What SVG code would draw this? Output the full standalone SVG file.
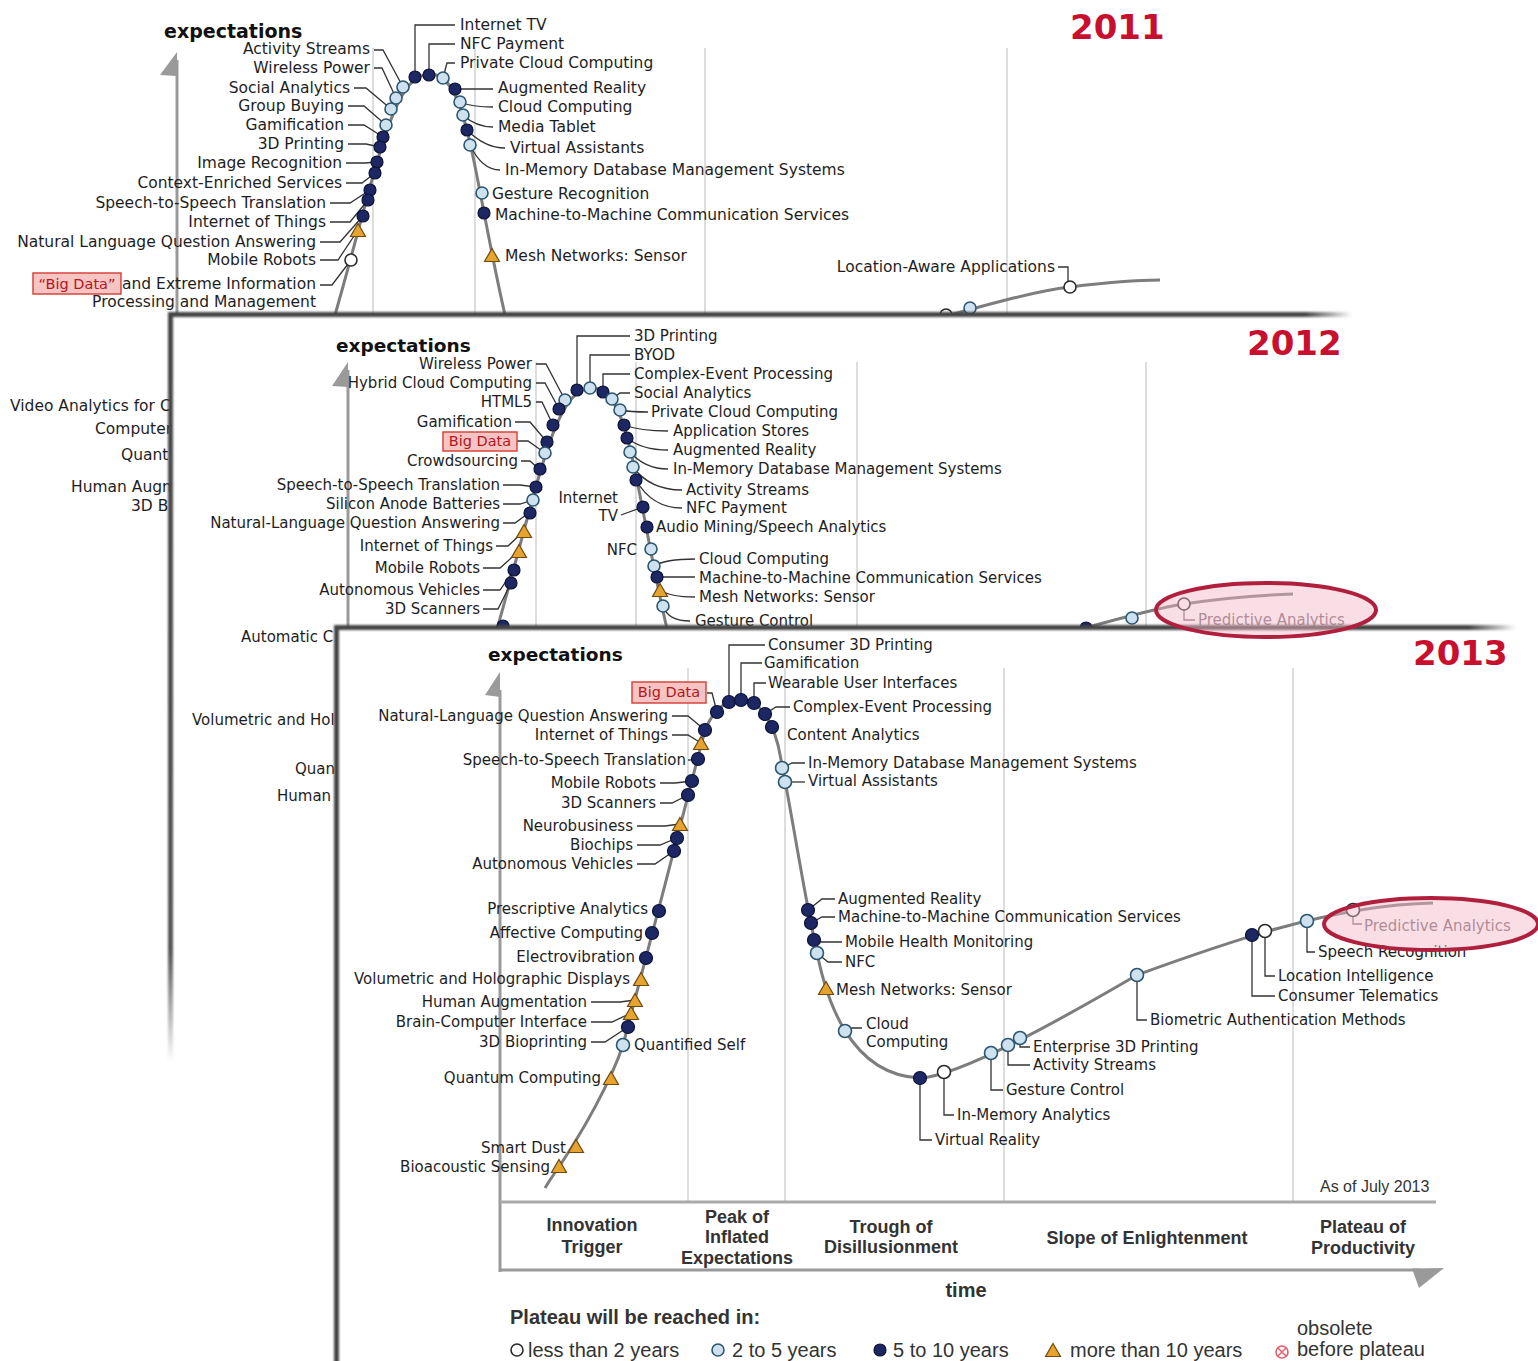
<svg xmlns="http://www.w3.org/2000/svg" width="1538" height="1361" viewBox="0 0 1538 1361">
<style>
text{font-family:"DejaVu Sans",sans-serif;fill:#1e1e1e}
.s{font-size:15.5px}
.m{font-size:15px}
.e{text-anchor:end}
.ex{font-weight:bold;font-size:19px;fill:#111}
.yr{font-weight:bold;font-size:34px;fill:#c8102e}
.ld{fill:none;stroke:#333;stroke-width:1.3}
.ldp{fill:none;stroke:#7d6873;stroke-width:1.3}
.cv{fill:none;stroke:#7d7d7d;stroke-width:3}
.dv{stroke:#d2d2d2;stroke-width:1.5}
.ax{stroke:#9a9a9a;stroke-width:3}
.axf{fill:#9a9a9a}
.d{fill:#1c2763;stroke:#0b1236;stroke-width:1.2}
.l{fill:#cde2ee;stroke:#2c5670;stroke-width:1.6}
.o{fill:#fff;stroke:#2a2a2a;stroke-width:1.6}
.t{fill:#e6a32e;stroke:#6e4a10;stroke-width:1.2}
.bd{fill:#f7c4c4;stroke:#d8453f;stroke-width:1.5}
.bdt{fill:#b3161c;font-size:14.5px;text-anchor:middle}
.ph{font-family:"Liberation Sans",sans-serif;font-weight:bold;font-size:18px;fill:#333;text-anchor:middle}
.lg{font-family:"Liberation Sans",sans-serif;font-size:20px;fill:#333}
.pa{fill:#7d6873}
.el{fill:#f2b8c6;fill-opacity:0.45;stroke:#b0203e;stroke-width:4}
</style>
<defs>
<path id="tr" d="M0,-7.5L7.5,5.5H-7.5Z"/>
<filter id="bl" filterUnits="userSpaceOnUse" x="0" y="0" width="1538" height="1361"><feGaussianBlur stdDeviation="1.3"/></filter>
<linearGradient id="gh" x1="0" x2="1" y1="0" y2="0"><stop offset="0" stop-color="#444"/><stop offset="0.96" stop-color="#444"/><stop offset="1" stop-color="#444" stop-opacity="0"/></linearGradient>
<linearGradient id="gv" x1="0" x2="0" y1="0" y2="1"><stop offset="0" stop-color="#444"/><stop offset="0.85" stop-color="#555"/><stop offset="1" stop-color="#555" stop-opacity="0"/></linearGradient>
</defs>

<g id="panel2011">
<line class="dv" x1="373" y1="48" x2="373" y2="316"/>
<line class="dv" x1="475" y1="48" x2="475" y2="316"/>
<line class="dv" x1="705" y1="48" x2="705" y2="316"/>
<line class="dv" x1="1007" y1="48" x2="1007" y2="316"/>
<line class="ax" x1="177" y1="60" x2="177" y2="316"/>
<polygon class="axf" points="177,52 177,76 160,75"/>
<text class="ex" x="164" y="38">expectations</text>
<text class="yr" x="1070" y="39">2011</text>
<path class="cv" d="M332,325 L335,315 C378,165 392,74 430,74 C468,74 472,170 505,315 L507,325"/>
<path class="cv" d="M925,322 C990,304 1035,291 1070,287 C1110,282 1140,280 1160,280"/>
<g id="leaders2011">
<path class="ld" d="M374,50 H383 L403,87"/>
<path class="ld" d="M374,68 H382 L396,98"/>
<path class="ld" d="M354,88 H366 L391,109"/>
<path class="ld" d="M348,106 H364 L386,125"/>
<path class="ld" d="M348,125 H364 L383,137"/>
<path class="ld" d="M348,144 H366 L380,147"/>
<path class="ld" d="M346,163 H365 L377,162"/>
<path class="ld" d="M346,183 H362 L375,173"/>
<path class="ld" d="M330,203 H350 L370,190"/>
<path class="ld" d="M330,222 H350 L368,200"/>
<path class="ld" d="M320,242 H340 L363,216"/>
<path class="ld" d="M320,260 H338 L358,230"/>
<path class="ld" d="M320,285 H332 L351,260"/>
<path class="ld" d="M415,77 V25 H455"/>
<path class="ld" d="M429,75 V44 H455"/>
<path class="ld" d="M443,78 L447,63 H455"/>
<path class="ld" d="M455,89 H493"/>
<path class="ld" d="M460,102 Q472,107 493,107"/>
<path class="ld" d="M463,115 Q476,127 493,127"/>
<path class="ld" d="M467,130 Q485,148 505,148"/>
<path class="ld" d="M470,145 Q482,170 500,170"/>
<path class="ld" d="M1058,267 H1068 V287"/>
</g>
<g id="dots2011">
<circle class="l" cx="403" cy="87" r="6"/><circle class="l" cx="396" cy="98" r="6"/><circle class="l" cx="391" cy="109" r="6"/><circle class="l" cx="386" cy="125" r="6"/>
<circle class="d" cx="383" cy="137" r="6"/><circle class="d" cx="380" cy="147" r="6"/><circle class="d" cx="377" cy="162" r="6"/><circle class="d" cx="375" cy="173" r="6"/><circle class="d" cx="370" cy="190" r="6"/><circle class="d" cx="368" cy="200" r="6"/><circle class="d" cx="363" cy="216" r="6"/>
<use href="#tr" class="t" x="358" y="231"/>
<circle class="o" cx="351" cy="260" r="6"/>
<circle class="d" cx="415" cy="77" r="6"/><circle class="d" cx="429" cy="75" r="6"/><circle class="l" cx="443" cy="78" r="6"/>
<circle class="d" cx="455" cy="89" r="6"/><circle class="l" cx="460" cy="102" r="6"/><circle class="l" cx="463" cy="115" r="6"/><circle class="d" cx="467" cy="130" r="6"/><circle class="l" cx="470" cy="145" r="6"/>
<circle class="l" cx="482" cy="193" r="6"/><circle class="d" cx="484" cy="213" r="6"/>
<use href="#tr" class="t" x="492" y="256"/>
<circle class="o" cx="946" cy="315" r="6"/><circle class="l" cx="970" cy="308" r="6"/><circle class="o" cx="1070" cy="287" r="6"/>
</g>
<rect class="bd" x="33" y="273" width="88" height="21"/>
<text class="bdt" x="77" y="289">“Big Data”</text>
<text class="s e" x="370" y="54">Activity Streams</text>
<text class="s e" x="370" y="73">Wireless Power</text>
<text class="s e" x="350" y="93">Social Analytics</text>
<text class="s e" x="344" y="111">Group Buying</text>
<text class="s e" x="344" y="130">Gamification</text>
<text class="s e" x="344" y="149">3D Printing</text>
<text class="s e" x="342" y="168">Image Recognition</text>
<text class="s e" x="342" y="188">Context-Enriched Services</text>
<text class="s e" x="326" y="208">Speech-to-Speech Translation</text>
<text class="s e" x="326" y="227">Internet of Things</text>
<text class="s e" x="316" y="247">Natural Language Question Answering</text>
<text class="s e" x="316" y="265">Mobile Robots</text>
<text class="s e" x="316" y="289">and Extreme Information</text>
<text class="s e" x="316" y="307">Processing and Management</text>
<text class="s" x="460" y="30">Internet TV</text>
<text class="s" x="460" y="49">NFC Payment</text>
<text class="s" x="460" y="68">Private Cloud Computing</text>
<text class="s" x="498" y="93">Augmented Reality</text>
<text class="s" x="498" y="112">Cloud Computing</text>
<text class="s" x="498" y="132">Media Tablet</text>
<text class="s" x="510" y="153">Virtual Assistants</text>
<text class="s" x="505" y="175">In-Memory Database Management Systems</text>
<text class="s" x="492" y="199">Gesture Recognition</text>
<text class="s" x="495" y="220">Machine-to-Machine Communication Services</text>
<text class="s" x="505" y="261">Mesh Networks: Sensor</text>
<text class="s e" x="1055" y="272">Location-Aware Applications</text>
<text class="s" x="10" y="411">Video Analytics for C</text>
<text class="s" x="95" y="434">Computer</text>
<text class="s" x="121" y="460">Quant</text>
<text class="s" x="71" y="492">Human Augm</text>
<text class="s" x="131" y="511">3D B</text>
</g>

<g id="panel2012">
<rect x="172" y="315" width="1180" height="1046" fill="#fff"/>
<g filter="url(#bl)">
<rect x="168" y="312" width="1184" height="5" fill="url(#gh)"/>
<rect x="168" y="312" width="5" height="750" fill="url(#gv)"/>
</g>
<line class="dv" x1="536" y1="362" x2="536" y2="630"/>
<line class="dv" x1="636" y1="362" x2="636" y2="630"/>
<line class="dv" x1="857" y1="362" x2="857" y2="630"/>
<line class="dv" x1="1146" y1="362" x2="1146" y2="630"/>
<line class="ax" x1="348" y1="370" x2="348" y2="630"/>
<polygon class="axf" points="348,362 348,387 332,386"/>
<text class="ex" x="336" y="352" style="font-size:18.5px">expectations</text>
<text class="yr" x="1247" y="355">2012</text>
<path class="cv" d="M495,640 L497,629 C540,479 554,388 592,388 C630,388 634,484 667,629 L669,640"/>
<path class="cv" d="M1060,635 C1100,624 1150,609 1184,604 C1230,597 1262,595 1293,594"/>
<g id="leaders2012">
<path class="ld" d="M536,364 H546 L565,400"/>
<path class="ld" d="M536,383 H545 L559,409"/>
<path class="ld" d="M536,402 H542 L553,425"/>
<path class="ld" d="M515,422 H530 L547,442"/>
<path class="ld" d="M517,441 H528 L545,453"/>
<path class="ld" d="M521,461 H530 L539,469"/>
<path class="ld" d="M503,485 H520 L536,487"/>
<path class="ld" d="M503,504 H520 L533,500"/>
<path class="ld" d="M503,523 H515 L530,512"/>
<path class="ld" d="M496,546 H508 L524,531"/>
<path class="ld" d="M483,568 H500 L519,551"/>
<path class="ld" d="M483,590 H500 L514,570"/>
<path class="ld" d="M483,609 H498 L511,583"/>
<path class="ld" d="M577,390 V336 H630"/>
<path class="ld" d="M590,388 V355 H630"/>
<path class="ld" d="M603,392 V374 H630"/>
<path class="ld" d="M612,399 L620,393 H630"/>
<path class="ld" d="M620,410 Q630,412 648,412"/>
<path class="ld" d="M624,425 Q640,431 668,431"/>
<path class="ld" d="M627,438 Q642,450 668,450"/>
<path class="ld" d="M630,452 Q645,469 668,469"/>
<path class="ld" d="M633,467 Q650,490 682,490"/>
<path class="ld" d="M636,480 Q652,508 682,508"/>
<path class="ld" d="M621,515 L643,507"/>
<path class="ld" d="M654,566 Q665,559 695,559"/>
<path class="ld" d="M657,577 H695"/>
<path class="ld" d="M660,590 Q670,597 695,597"/>
<path class="ld" d="M663,606 Q668,621 690,621"/>
<path class="ldp" d="M1184,604 V620 H1195"/>
</g>
<g id="dots2012">
<circle class="l" cx="565" cy="400" r="6"/><circle class="d" cx="559" cy="409" r="6"/><circle class="d" cx="553" cy="425" r="6"/><circle class="d" cx="547" cy="442" r="6"/><circle class="l" cx="545" cy="453" r="6"/><circle class="d" cx="540" cy="469" r="6"/><circle class="d" cx="536" cy="487" r="6"/><circle class="l" cx="533" cy="500" r="6"/><circle class="d" cx="530" cy="513" r="6"/>
<use href="#tr" class="t" x="524" y="532"/><use href="#tr" class="t" x="519" y="552"/>
<circle class="d" cx="514" cy="570" r="6"/><circle class="d" cx="511" cy="583" r="6"/><circle class="d" cx="503" cy="626" r="6"/>
<circle class="d" cx="577" cy="390" r="6"/><circle class="l" cx="590" cy="388" r="6"/><circle class="d" cx="603" cy="392" r="6"/><circle class="l" cx="612" cy="399" r="6"/><circle class="l" cx="620" cy="410" r="6"/><circle class="d" cx="624" cy="425" r="6"/><circle class="d" cx="627" cy="438" r="6"/><circle class="l" cx="630" cy="452" r="6"/><circle class="l" cx="633" cy="467" r="6"/><circle class="d" cx="636" cy="480" r="6"/>
<circle class="d" cx="643" cy="507" r="6"/><circle class="d" cx="647" cy="527" r="6"/><circle class="l" cx="651" cy="549" r="6"/><circle class="l" cx="654" cy="566" r="6"/><circle class="d" cx="657" cy="577" r="6"/>
<use href="#tr" class="t" x="660" y="591"/>
<circle class="l" cx="663" cy="606" r="6"/>
<circle class="d" cx="1086" cy="628" r="6"/><circle class="l" cx="1132" cy="618" r="6"/><circle class="o" cx="1184" cy="604" r="6"/>
</g>
<rect class="bd" x="443" y="432" width="74" height="19"/>
<text class="bdt" x="480" y="446">Big Data</text>
<text class="m e" x="532" y="369">Wireless Power</text>
<text class="m e" x="532" y="388">Hybrid Cloud Computing</text>
<text class="m e" x="532" y="407">HTML5</text>
<text class="m e" x="512" y="427">Gamification</text>
<text class="m e" x="518" y="466">Crowdsourcing</text>
<text class="m e" x="500" y="490">Speech-to-Speech Translation</text>
<text class="m e" x="500" y="509">Silicon Anode Batteries</text>
<text class="m e" x="500" y="528">Natural-Language Question Answering</text>
<text class="m e" x="493" y="551">Internet of Things</text>
<text class="m e" x="480" y="573">Mobile Robots</text>
<text class="m e" x="480" y="595">Autonomous Vehicles</text>
<text class="m e" x="480" y="614">3D Scanners</text>
<text class="m" x="634" y="341">3D Printing</text>
<text class="m" x="634" y="360">BYOD</text>
<text class="m" x="634" y="379">Complex-Event Processing</text>
<text class="m" x="634" y="398">Social Analytics</text>
<text class="m" x="651" y="417">Private Cloud Computing</text>
<text class="m" x="673" y="436">Application Stores</text>
<text class="m" x="673" y="455">Augmented Reality</text>
<text class="m" x="673" y="474">In-Memory Database Management Systems</text>
<text class="m" x="686" y="495">Activity Streams</text>
<text class="m" x="686" y="513">NFC Payment</text>
<text class="m" x="656" y="532">Audio Mining/Speech Analytics</text>
<text class="m e" x="618" y="503">Internet</text>
<text class="m e" x="618" y="521">TV</text>
<text class="m e" x="637" y="555">NFC</text>
<text class="m" x="699" y="564">Cloud Computing</text>
<text class="m" x="699" y="583">Machine-to-Machine Communication Services</text>
<text class="m" x="699" y="602">Mesh Networks: Sensor</text>
<text class="m" x="695" y="626">Gesture Control</text>
<text class="m pa" x="1198" y="625">Predictive Analytics</text>
<text class="m" x="241" y="642">Automatic C</text>
<text class="m" x="192" y="725">Volumetric and Hol</text>
<text class="m" x="295" y="774">Quan</text>
<text class="m" x="277" y="801">Human</text>
</g>

<g id="panel2013">
<rect x="338" y="628" width="1200" height="733" fill="#fff"/>
<g filter="url(#bl)">
<rect x="334" y="625" width="1182" height="5" fill="url(#gh)"/>
<rect x="334" y="626" width="5" height="740" fill="#444"/>
</g>
<line class="dv" x1="688" y1="668" x2="688" y2="1202"/>
<line class="dv" x1="785" y1="668" x2="785" y2="1202"/>
<line class="dv" x1="1004" y1="668" x2="1004" y2="1202"/>
<line class="dv" x1="1293" y1="668" x2="1293" y2="1202"/>
<line class="ax" x1="500" y1="690" x2="500" y2="1272"/>
<polygon class="axf" points="500,672 500,697 485,695"/>
<line x1="500" y1="1202" x2="1436" y2="1202" stroke="#aaa" stroke-width="3"/>
<line class="ax" x1="500" y1="1270" x2="1420" y2="1270"/>
<polygon class="axf" points="1412,1268.5 1444,1268 1419,1288"/>
<text class="ex" x="488" y="661" style="font-size:18.5px">expectations</text>
<text class="yr" x="1413" y="665">2013</text>
<path class="cv" d="M545,1188 L550,1180 C585,1130 612,1078 623,1045 C645,960 685,810 705,730 C715,706 728,700 741,700 C758,700 770,715 778,745 C788,790 805,900 815,942 C825,1000 850,1075 920,1078 C960,1076 1060,1020 1137,975 C1220,945 1330,905 1433,903"/>
<g id="leaders2013">
<path class="ld" d="M672,716 H688 L705,730"/>
<path class="ld" d="M672,735 H688 L701,743"/>
<path class="ld" d="M688,760 H694"/>
<path class="ld" d="M660,783 H675 L692,781"/>
<path class="ld" d="M660,803 H672 L688,795"/>
<path class="ld" d="M637,826 H665 L680,824"/>
<path class="ld" d="M637,845 H660 L677,838"/>
<path class="ld" d="M637,864 H655 L674,851"/>
<path class="ld" d="M591,1002 H620 L635,1000"/>
<path class="ld" d="M591,1022 H612 L631,1013"/>
<path class="ld" d="M591,1042 H605 L628,1027"/>
<path class="ld" d="M707,693 H712 L717,712"/>
<path class="ld" d="M729,702 V645 H765"/>
<path class="ld" d="M741,700 V663 H762"/>
<path class="ld" d="M754,703 V683 H766"/>
<path class="ld" d="M765,714 L776,707 H790"/>
<path class="ld" d="M782,768 L792,763 H805"/>
<path class="ld" d="M785,782 H805"/>
<path class="ld" d="M808,910 L822,899 H835"/>
<path class="ld" d="M811,923 L822,917 H835"/>
<path class="ld" d="M814,940 L822,942 H842"/>
<path class="ld" d="M817,953 L828,962 H842"/>
<path class="ld" d="M845,1031 L852,1028 H862"/>
<path class="ld" d="M1020,1038 V1047 H1030"/>
<path class="ld" d="M1008,1045 V1065 H1030"/>
<path class="ld" d="M991,1053 V1090 H1003"/>
<path class="ld" d="M944,1072 V1115 H954"/>
<path class="ld" d="M920,1078 V1140 H932"/>
<path class="ld" d="M1137,975 V1020 H1147"/>
<path class="ld" d="M1265,931 V976 H1275"/>
<path class="ld" d="M1252,935 V996 H1275"/>
<path class="ld" d="M1307,921 V952 H1315"/>
<path class="ldp" d="M1353,910 V924 H1362"/>
</g>
<g id="dots2013">
<use href="#tr" class="t" x="559" y="1167"/><use href="#tr" class="t" x="576" y="1147"/><use href="#tr" class="t" x="611" y="1079"/>
<circle class="l" cx="623" cy="1045" r="6.5"/><circle class="d" cx="628" cy="1027" r="6.5"/>
<use href="#tr" class="t" x="631" y="1014"/><use href="#tr" class="t" x="635" y="1001"/><use href="#tr" class="t" x="641" y="980"/>
<circle class="d" cx="646" cy="958" r="6.5"/><circle class="d" cx="652" cy="933" r="6.5"/><circle class="d" cx="659" cy="911" r="6.5"/>
<circle class="d" cx="674" cy="851" r="6.5"/><circle class="d" cx="677" cy="838" r="6.5"/>
<use href="#tr" class="t" x="680" y="825"/>
<circle class="d" cx="688" cy="795" r="6.5"/><circle class="d" cx="692" cy="781" r="6.5"/><circle class="d" cx="698" cy="759" r="6.5"/>
<use href="#tr" class="t" x="701" y="744"/>
<circle class="d" cx="705" cy="730" r="6.5"/><circle class="d" cx="717" cy="712" r="6.5"/><circle class="d" cx="729" cy="702" r="6.5"/><circle class="d" cx="741" cy="700" r="6.5"/><circle class="d" cx="754" cy="703" r="6.5"/><circle class="d" cx="765" cy="714" r="6.5"/><circle class="d" cx="772" cy="727" r="6.5"/>
<circle class="l" cx="782" cy="768" r="6.5"/><circle class="l" cx="785" cy="782" r="6.5"/>
<circle class="d" cx="808" cy="910" r="6.5"/><circle class="d" cx="811" cy="923" r="6.5"/><circle class="d" cx="814" cy="940" r="6.5"/><circle class="l" cx="817" cy="953" r="6.5"/>
<use href="#tr" class="t" x="826" y="989"/>
<circle class="l" cx="845" cy="1031" r="6.5"/>
<circle class="d" cx="920" cy="1078" r="6.5"/><circle class="o" cx="944" cy="1072" r="6.5"/>
<circle class="l" cx="991" cy="1053" r="6.5"/><circle class="l" cx="1008" cy="1045" r="6.5"/><circle class="l" cx="1020" cy="1038" r="6.5"/>
<circle class="l" cx="1137" cy="975" r="6.5"/>
<circle class="d" cx="1252" cy="935" r="6.5"/><circle class="o" cx="1265" cy="931" r="6.5"/><circle class="l" cx="1307" cy="921" r="6.5"/><circle class="o" cx="1353" cy="910" r="6.5"/>
</g>
<rect class="bd" x="632" y="682" width="74" height="21"/>
<text class="bdt" x="669" y="697">Big Data</text>
<text class="m e" x="668" y="721">Natural-Language Question Answering</text>
<text class="m e" x="668" y="740">Internet of Things</text>
<text class="m e" x="686" y="765">Speech-to-Speech Translation</text>
<text class="m e" x="656" y="788">Mobile Robots</text>
<text class="m e" x="656" y="808">3D Scanners</text>
<text class="m e" x="633" y="831">Neurobusiness</text>
<text class="m e" x="633" y="850">Biochips</text>
<text class="m e" x="633" y="869">Autonomous Vehicles</text>
<text class="m e" x="648" y="914">Prescriptive Analytics</text>
<text class="m e" x="643" y="938">Affective Computing</text>
<text class="m e" x="635" y="962">Electrovibration</text>
<text class="m e" x="630" y="984">Volumetric and Holographic Displays</text>
<text class="m e" x="587" y="1007">Human Augmentation</text>
<text class="m e" x="587" y="1027">Brain-Computer Interface</text>
<text class="m e" x="587" y="1047">3D Bioprinting</text>
<text class="m" x="634" y="1050">Quantified Self</text>
<text class="m e" x="601" y="1083">Quantum Computing</text>
<text class="m e" x="566" y="1153">Smart Dust</text>
<text class="m e" x="550" y="1172">Bioacoustic Sensing</text>
<text class="m" x="768" y="650">Consumer 3D Printing</text>
<text class="m" x="764" y="668">Gamification</text>
<text class="m" x="768" y="688">Wearable User Interfaces</text>
<text class="m" x="793" y="712">Complex-Event Processing</text>
<text class="m" x="787" y="740">Content Analytics</text>
<text class="m" x="808" y="768">In-Memory Database Management Systems</text>
<text class="m" x="808" y="786">Virtual Assistants</text>
<text class="m" x="838" y="904">Augmented Reality</text>
<text class="m" x="838" y="922">Machine-to-Machine Communication Services</text>
<text class="m" x="845" y="947">Mobile Health Monitoring</text>
<text class="m" x="845" y="967">NFC</text>
<text class="m" x="836" y="995">Mesh Networks: Sensor</text>
<text class="m" x="866" y="1029">Cloud</text>
<text class="m" x="866" y="1047">Computing</text>
<text class="m" x="1033" y="1052">Enterprise 3D Printing</text>
<text class="m" x="1033" y="1070">Activity Streams</text>
<text class="m" x="1006" y="1095">Gesture Control</text>
<text class="m" x="957" y="1120">In-Memory Analytics</text>
<text class="m" x="935" y="1145">Virtual Reality</text>
<text class="m" x="1150" y="1025">Biometric Authentication Methods</text>
<text class="m" x="1278" y="981">Location Intelligence</text>
<text class="m" x="1278" y="1001">Consumer Telematics</text>
<text class="m" x="1318" y="957">Speech Recognition</text>
<text class="m pa" x="1364" y="931">Predictive Analytics</text>
<text x="1320" y="1192" style="font-family:'Liberation Sans',sans-serif;font-size:16px;fill:#333">As of July 2013</text>
<text class="ph" x="592" y="1231">Innovation</text>
<text class="ph" x="592" y="1253">Trigger</text>
<text class="ph" x="737" y="1223">Peak of</text>
<text class="ph" x="737" y="1243">Inflated</text>
<text class="ph" x="737" y="1264">Expectations</text>
<text class="ph" x="891" y="1233">Trough of</text>
<text class="ph" x="891" y="1253">Disillusionment</text>
<text class="ph" x="1147" y="1244">Slope of Enlightenment</text>
<text class="ph" x="1363" y="1233">Plateau of</text>
<text class="ph" x="1363" y="1254">Productivity</text>
<text class="ph" x="966" y="1297" style="font-size:20px">time</text>
<text x="510" y="1324" style="font-family:'Liberation Sans',sans-serif;font-weight:bold;font-size:20px;fill:#333">Plateau will be reached in:</text>
<g id="legend">
<circle class="o" cx="517" cy="1350" r="6"/>
<text class="lg" x="528" y="1357">less than 2 years</text>
<circle class="l" cx="718" cy="1350" r="6"/>
<text class="lg" x="732" y="1357">2 to 5 years</text>
<circle class="d" cx="880" cy="1350" r="6"/>
<text class="lg" x="893" y="1357">5 to 10 years</text>
<use href="#tr" class="t" x="1053" y="1351"/>
<text class="lg" x="1070" y="1357">more than 10 years</text>
<circle cx="1282" cy="1352" r="6" fill="#fff" stroke="#e06070" stroke-width="1.6"/>
<path d="M1278,1348 L1286,1356 M1286,1348 L1278,1356" stroke="#e06070" stroke-width="1.5"/>
<text class="lg" x="1297" y="1335">obsolete</text>
<text class="lg" x="1297" y="1356">before plateau</text>
</g>
</g>

<g id="highlights">
<ellipse class="el" cx="1266" cy="610" rx="110" ry="27"/>
<ellipse class="el" cx="1431" cy="924" rx="107" ry="26"/>
</g>
</svg>
